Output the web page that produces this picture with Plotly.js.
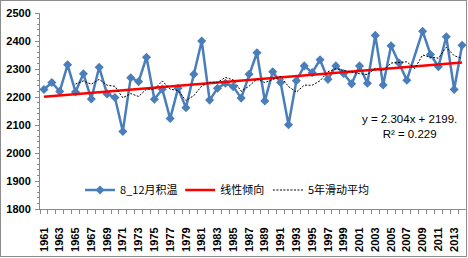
<!DOCTYPE html>
<html>
<head>
<meta charset="utf-8">
<script src="https://cdn.plot.ly/plotly-3.0.1.min.js"></script>
<style>
html,body{margin:0;padding:0;background:#fff;}
#wrap{position:relative;width:468px;height:258px;}
#chart{width:468px;height:258px;}
#frame{position:absolute;left:0;top:0;width:467px;height:257px;border:1px solid #8c8c8c;box-sizing:border-box;pointer-events:none;}
</style>
</head>
<body>
<div id="wrap"><div id="chart"></div><div id="frame"></div></div>
<script>
// ---- data ----
const years = [1961,1962,1963,1964,1965,1966,1967,1968,1969,1970,
               1971,1972,1973,1974,1975,1976,1977,1978,1979,1980,
               1981,1982,1983,1984,1985,1986,1987,1988,1989,1990,
               1991,1992,1993,1994,1995,1996,1997,1998,1999,2000,
               2001,2002,2003,2004,2005,2006,2007,2008,2009,2010,
               2011,2012,2013,2014];
const accumTemp = [2227,2252,2220,2315,2218,2283,2193,2306,2211,2198,
                   2077,2269,2255,2342,2192,2228,2123,2231,2162,2281,
                   2400,2189,2231,2249,2237,2196,2281,2358,2186,2290,
                   2252,2101,2258,2311,2287,2333,2263,2311,2284,2247,
                   2311,2249,2420,2243,2383,2322,2260,null,2435,2352,
                   2308,2415,2227,2385];
const tickYears = [1961,1963,1965,1967,1969,1971,1973,1975,1977,1979,1981,1983,1985,1987,
                   1989,1991,1993,1995,1997,1999,2001,2003,2005,2007,2009,2011,2013];
const seriesNames = ['8_12月积温','线性倾向','5年滑动平均'];
const trendSlope = 2.304;
const trendIntercept = 2199;
const trendR2 = 0.229;
const maPeriod = 5;

// ---- derived series ----
const trendY = years.map((y,i)=> trendSlope*(i+1) + trendIntercept);
const maX = [], maY = [];
for (let i = maPeriod-1; i < years.length; i++) {
  const w = accumTemp.slice(i-maPeriod+1, i+1).filter(v => v !== null);
  maX.push(years[i]);
  maY.push(w.reduce((a,b)=>a+b,0)/w.length);
}

const axisColor = '#898989';
const tickFont = {family:'Liberation Sans, Arial, sans-serif', size:11, color:'#000', weight:700};
const legFont = {family:'Noto Sans CJK SC, sans-serif', size:11, color:'#000'};

const traces = [
  {x: years, y: accumTemp, type:'scatter', mode:'lines+markers', name: seriesNames[0],
   connectgaps:true, line:{color:'#4A7EBB', width:2.5},
   marker:{symbol:'diamond', size:7, color:'#4A7EBB'}, legend:'legend'},
  {x: years, y: trendY, type:'scatter', mode:'lines', name: seriesNames[1],
   line:{color:'#FF0000', width:2.5}, legend:'legend2'},
  {x: maX, y: maY, type:'scatter', mode:'lines', name: seriesNames[2],
   line:{color:'#000000', width:1, dash:'2px,1.5px'}, legend:'legend3'}
];

const legBase = {orientation:'h', y:0.097, yanchor:'middle', xanchor:'left',
                 bgcolor:'rgba(0,0,0,0)', font:legFont, itemwidth:30};

const layout = {
  width:468, height:258,
  margin:{l:40, r:2, t:13, b:49, pad:0},
  paper_bgcolor:'#fff', plot_bgcolor:'#fff',
  showlegend:true,
  legend: Object.assign({}, legBase, {x:0.094}),
  legend2: Object.assign({}, legBase, {x:0.329}),
  legend3: Object.assign({}, legBase, {x:0.535}),
  xaxis:{
    range:[1960.5, 2014.5], tickmode:'array', tickvals: tickYears, ticktext: tickYears.map(String),
    tickangle:-90, ticks:'', showgrid:false, zeroline:false,
    showline:true, linecolor:axisColor, linewidth:1,
    tickfont: tickFont, ticklabelstandoff:13,
    minor:{tickmode:'linear', tick0:1960.5, dtick:1, ticks:'outside', ticklen:4, tickcolor:axisColor, showgrid:false}
  },
  yaxis:{
    range:[1800, 2500], tickmode:'linear', tick0:1800, dtick:100,
    ticks:'outside', ticklen:4, tickcolor:axisColor, showgrid:false, zeroline:false,
    showline:true, linecolor:axisColor, linewidth:1,
    tickfont: tickFont, ticklabelstandoff:2,
    minor:{dtick:20, ticks:'outside', ticklen:2, tickcolor:axisColor, showgrid:false}
  },
  annotations:[{
    xref:'paper', yref:'paper', x:0.868, y:0.421, xanchor:'center', yanchor:'middle',
    showarrow:false, align:'center',
    text:'y = ' + trendSlope + 'x + ' + trendIntercept + '.<br>R² = ' + trendR2,
    font:{family:'Liberation Sans Narrow, Liberation Sans, sans-serif', size:11.5, color:'#000'}
  }]
};

Plotly.newPlot('chart', traces, layout, {displayModeBar:false, staticPlot:true});
</script>
</body>
</html>
